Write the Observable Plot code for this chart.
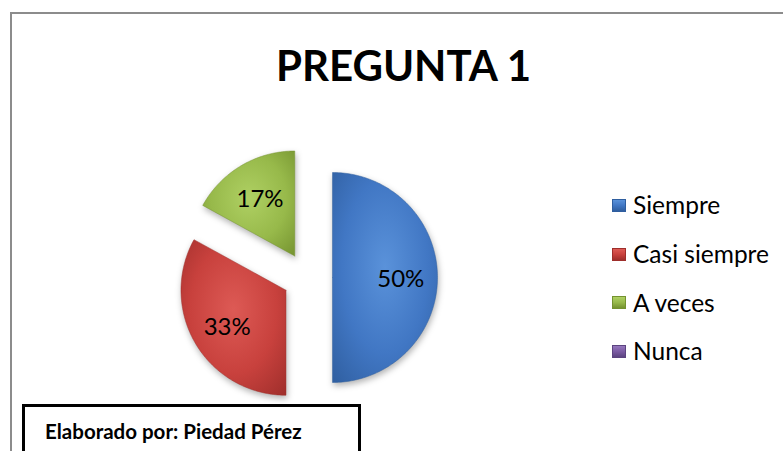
<!DOCTYPE html>
<html><head><meta charset="utf-8">
<script src="https://cdn.jsdelivr.net/npm/d3@7"></script>
<script src="https://cdn.jsdelivr.net/npm/@observablehq/plot@0.6"></script>
<style>
html,body{margin:0;padding:0;background:#fff;width:783px;height:451px;overflow:hidden;font-family:Lato,"Open Sans",sans-serif;}
#wrap{position:relative;width:783px;height:451px;}
#frame{position:absolute;left:10px;top:12px;width:820px;height:520px;border:2px solid #8c8c8c;box-sizing:border-box;}
#title{position:absolute;left:0;width:807px;top:40px;text-align:center;font-weight:bold;font-size:42px;line-height:50px;color:#000;}
#chart{position:absolute;left:0;top:0;}
#chart path{filter:drop-shadow(1px 3px 3px rgba(0,0,0,0.3));}
#legend{position:absolute;left:612px;top:181px;}
.item{display:flex;align-items:center;height:48.7px;font-size:24.5px;line-height:30px;color:#000;}
.sw{width:14px;height:13px;margin-right:7px;box-sizing:border-box;}
#note{position:absolute;left:22px;top:404px;width:339px;height:52px;border:3px solid #000;box-sizing:border-box;font-weight:bold;font-size:20.5px;line-height:24.6px;padding:12px 0 0 20px;background:#fff;white-space:nowrap;}
</style></head>
<body>
<div id="wrap">
  <div id="frame"></div>
  <div id="title"></div>
  <div id="chart"></div>
  <div id="legend"></div>
  <div id="note"></div>
</div>
<script>
const title = "PREGUNTA 1";
const note = "Elaborado por: Piedad Pérez";
const categories = ["Siempre", "Casi siempre", "A veces", "Nunca"];
const values = [50, 33, 17, 0];
const colors = ["#4177C4", "#C8413D", "#97B94A", "#7B5BA3"];
const lights = ["#5A92DA", "#DD5A55", "#AFD063", "#9577BD"];
const darks = ["#2F5E9F", "#9E2E2B", "#74922F", "#5C4480"];

document.getElementById("title").textContent = title;
document.getElementById("note").textContent = note;

// layout
const cx = 307, cy = 277, R = 105, explode = 25;
const total = d3.sum(values);
const arcs = d3.pie().sort(null).value(d => d)(values);
const polys = [], labels = [];
arcs.forEach((a, i) => {
  if (a.endAngle - a.startAngle <= 0) return;
  const mid = (a.startAngle + a.endAngle) / 2;
  const ox = cx + explode * Math.sin(mid), oy = cy - explode * Math.cos(mid);
  const pts = [{x: ox, y: oy}];
  const n = Math.max(2, Math.ceil((a.endAngle - a.startAngle) / 0.02));
  for (let j = 0; j <= n; j++) {
    const t = a.startAngle + (a.endAngle - a.startAngle) * j / n;
    pts.push({x: ox + R * Math.sin(t), y: oy - R * Math.cos(t)});
  }
  pts.push({x: ox, y: oy});
  polys.push({i, pts});
  labels.push({x: ox + 0.65 * R * Math.sin(mid), y: oy - 0.65 * R * Math.cos(mid),
               text: Math.round(a.value / total * 100) + "%"});
});

const chart = Plot.plot({
  width: 783, height: 451, margin: 0,
  style: {background: "transparent", overflow: "visible"},
  x: {domain: [0, 783], range: [0, 783], axis: null},
  y: {domain: [0, 451], range: [0, 451], axis: null},
  marks: [
    ...polys.map(p => Plot.line(p.pts, {x: "x", y: "y", fill: `url(#g${p.i})`, stroke: darks[p.i], strokeWidth: 0.8, strokeOpacity: 0.6})),
    Plot.text(labels, {x: "x", y: "y", text: "text", fontSize: 24, dy: 2, fill: "#000", fontFamily: "Lato"})
  ]
});
let defs = "<defs>";
colors.forEach((c, i) => {
  defs += `<radialGradient id="g${i}" cx="0.5" cy="0.45" r="0.75">
    <stop offset="0" stop-color="${lights[i]}"/>
    <stop offset="0.55" stop-color="${c}"/>
    <stop offset="1" stop-color="${darks[i]}"/></radialGradient>`;
});
defs += "</defs>";
chart.insertAdjacentHTML("afterbegin", defs);
document.getElementById("chart").appendChild(chart);

const legend = document.getElementById("legend");
categories.forEach((c, i) => {
  const item = document.createElement("div");
  item.className = "item";
  const sw = document.createElement("span");
  sw.className = "sw";
  sw.style.background = `linear-gradient(180deg, ${lights[i]}, ${colors[i]} 50%, ${darks[i]})`;
  sw.style.border = `1px solid ${darks[i]}`;
  const t = document.createElement("span");
  t.textContent = c;
  item.appendChild(sw); item.appendChild(t);
  legend.appendChild(item);
});
</script>
</body></html>
